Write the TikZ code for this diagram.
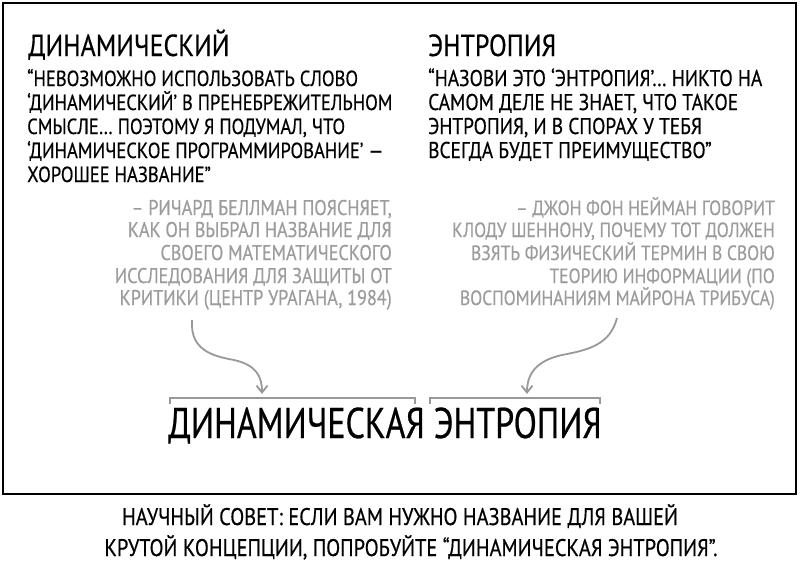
\documentclass[tikz,border=0pt]{standalone}
\usepackage{fontspec}
\setmainfont{PT Sans}[FakeStretch=0.85,FakeBold=0.4]
\newfontfamily\bigfont{PT Sans}[FakeStretch=0.79,FakeBold=0.5]
\usetikzlibrary{arrows.meta}
\definecolor{txtgray}{HTML}{9C9C9C}
\definecolor{arrgray}{HTML}{999999}
\tikzset{
  ttl/.style={inner sep=0pt, anchor=base west, font=\fontsize{30.5}{32}\selectfont},
  quo/.style={inner sep=0pt, anchor=base west, font=\fontsize{21.8}{24}\selectfont},
  quor/.style={quo, font=\fontsize{22.8}{24}\selectfont},
  attr/.style={inner sep=0pt, anchor=base east, text=txtgray, font=\fontsize{21.3}{23}\selectfont},
  attrr/.style={attr, font=\fontsize{20.6}{23}\selectfont},
  big/.style={inner sep=0pt, anchor=base west, font=\bigfont\fontsize{43}{46}\selectfont},
  capt/.style={inner sep=0pt, anchor=base, font=\fontsize{24}{26}\selectfont},
  arr/.style={draw=arrgray, line width=1.8pt, -{Straight Barb[length=7pt,width=11pt,line width=1.8pt]}},
  brk/.style={draw=arrgray, line width=1.2pt}
}
\begin{document}
\begin{tikzpicture}[x=1pt,y=-1pt]
\useasboundingbox (0,0) rectangle (800,570);
\fill[white] (0,0) rectangle (800,570);
\draw[line width=2.2pt] (3,3) rectangle (796,494);

% left column
\node[ttl] (t1) at (28,56) {ДИНАМИЧЕСКИЙ};
\node[quo] (q1) at (27,86) {“НЕВОЗМОЖНО ИСПОЛЬЗОВАТЬ СЛОВО};
\node[quo] (q2) at (27,110) {‘ДИНАМИЧЕСКИЙ’ В ПРЕНЕБРЕЖИТЕЛЬНОМ};
\node[quo] (q3) at (27,134) {СМЫСЛЕ… ПОЭТОМУ Я ПОДУМАЛ, ЧТО};
\node[quo] (q4) at (27,158) {‘ДИНАМИЧЕСКОЕ ПРОГРАММИРОВАНИЕ’ —};
\node[quo] (q5) at (27,182) {ХОРОШЕЕ НАЗВАНИЕ”};

\node[attr] (a1) at (392,215) {– РИЧАРД БЕЛЛМАН ПОЯСНЯЕТ,};
\node[attr] (a2) at (392,237) {КАК ОН ВЫБРАЛ НАЗВАНИЕ ДЛЯ};
\node[attr] (a3) at (392,260) {СВОЕГО МАТЕМАТИЧЕСКОГО};
\node[attr] (a4) at (392,283) {ИССЛЕДОВАНИЯ ДЛЯ ЗАЩИТЫ ОТ};
\node[attr] (a5) at (392,305) {КРИТИКИ (ЦЕНТР УРАГАНА, 1984)};

% right column
\node[ttl] (t2) at (428,56) {ЭНТРОПИЯ};
\node[quor] (r1) at (428,86) {“НАЗОВИ ЭТО ‘ЭНТРОПИЯ’… НИКТО НА};
\node[quor] (r2) at (428,110) {САМОМ ДЕЛЕ НЕ ЗНАЕТ, ЧТО ТАКОЕ};
\node[quor] (r3) at (428,134) {ЭНТРОПИЯ, И В СПОРАХ У ТЕБЯ};
\node[quor] (r4) at (428,158) {ВСЕГДА БУДЕТ ПРЕИМУЩЕСТВО”};

\node[attrr] (b1) at (775,215) {– ДЖОН ФОН НЕЙМАН ГОВОРИТ};
\node[attrr] (b2) at (775,237) {КЛОДУ ШЕННОНУ, ПОЧЕМУ ТОТ ДОЛЖЕН};
\node[attrr] (b3) at (775,260) {ВЗЯТЬ ФИЗИЧЕСКИЙ ТЕРМИН В СВОЮ};
\node[attrr] (b4) at (775,283) {ТЕОРИЮ ИНФОРМАЦИИ (ПО};
\node[attrr] (b5) at (775,305) {ВОСПОМИНАНИЯМ МАЙРОНА ТРИБУСА)};

% arrows
\coordinate (la1) at (192,320);
\coordinate (la2) at (262,394);
\coordinate (ra1) at (617,318);
\coordinate (ra2) at (527,394);
\draw[arr] (la1) .. controls (190,350) and (212,356) .. (234,360) .. controls (256,365) and (262,376) .. (la2);
\draw[arr] (ra1) .. controls (610,345) and (588,350) .. (562,355) .. controls (535,361) and (527,375) .. (ra2);

% brackets
\draw[brk] (170,404) -- (170,398) -- (415,398) -- (415,404);
\draw[brk] (430,404) -- (430,398) -- (600,398) -- (600,404);

% big text
\node[big] (bg) at (168,438) {ДИНАМИЧЕСКАЯ ЭНТРОПИЯ};

% caption
\node[capt] (c1) at (400,525) {НАУЧНЫЙ СОВЕТ: ЕСЛИ ВАМ НУЖНО НАЗВАНИЕ ДЛЯ ВАШЕЙ};
\node[capt] (c2) at (411,556) {КРУТОЙ КОНЦЕПЦИИ, ПОПРОБУЙТЕ “ДИНАМИЧЕСКАЯ ЭНТРОПИЯ”.};
\end{tikzpicture}
\end{document}
